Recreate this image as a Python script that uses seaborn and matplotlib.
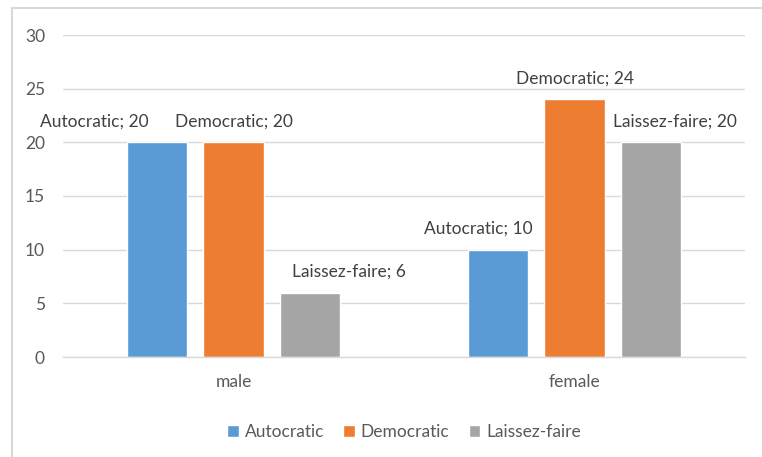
import matplotlib
matplotlib.use("Agg")
import matplotlib.pyplot as plt
import seaborn as sns
import pandas as pd
from matplotlib.patches import Rectangle

genders = ["male", "female"]
styles = ["Autocratic", "Democratic", "Laissez-faire"]
autocratic = [20, 10]
democratic = [20, 24]
laissez_faire = [6, 20]
y_ticks = [0, 5, 10, 15, 20, 25, 30]

colors = ["#5B9BD5", "#ED7D31", "#A5A5A5"]

rows = []
for style, vals in zip(styles, [autocratic, democratic, laissez_faire]):
    for g, v in zip(genders, vals):
        rows.append({"gender": g, "style": style, "count": v})
df = pd.DataFrame(rows)

sns.set_theme(style="white")
plt.rcParams["font.family"] = ["Lato", "DejaVu Sans"]

FS = 12.5

fig = plt.figure(figsize=(7.62, 4.57), dpi=100)
ax = fig.add_axes([63 / 762, 1 - 357 / 457, (745 - 63) / 762, (357 - 35) / 457])

sns.barplot(data=df, x="gender", y="count", hue="style", order=genders,
            hue_order=styles, palette=colors, width=0.669, gap=0.21,
            saturation=1, errorbar=None, ax=ax, legend=True)

ax.set_ylim(0, 30)
ax.set_xlim(-0.5, 1.5)
ax.set_yticks(y_ticks)
ax.set_yticklabels([str(t) for t in y_ticks], fontsize=FS, color="#595959")
ax.tick_params(axis="x", labelsize=FS, labelcolor="#595959", length=0, pad=12)
ax.tick_params(axis="y", length=0, pad=13)
ax.set_xlabel("")
ax.set_ylabel("")
ax.yaxis.grid(True, color="#D9D9D9", linewidth=1)
ax.set_axisbelow(True)
for s in ["top", "right", "left"]:
    ax.spines[s].set_visible(False)
ax.spines["bottom"].set_color("#D9D9D9")
ax.spines["bottom"].set_linewidth(1)

# Data labels: horizontal shifts (pixels) to keep neighbouring labels apart
label_shift = {
    ("Autocratic", "male"): -63, ("Democratic", "male"): 0, ("Laissez-faire", "male"): 39,
    ("Autocratic", "female"): -20, ("Democratic", "female"): 0, ("Laissez-faire", "female"): 24,
}
for container, style in zip(ax.containers, styles):
    for bar, g in zip(container, genders):
        h = bar.get_height()
        x = bar.get_x() + bar.get_width() / 2
        ax.annotate(f"{style}; {h:g}", xy=(x, h), xytext=(label_shift[(style, g)], 21),
                    textcoords="offset pixels", ha="center", va="center",
                    fontsize=FS, color="#404040")

leg = ax.legend(loc="upper center", bbox_to_anchor=(0.5, -0.16), ncol=3, frameon=False,
                fontsize=FS, handlelength=0.65, handleheight=0.65, columnspacing=1.1,
                handletextpad=0.35)
for t in leg.get_texts():
    t.set_color("#595959")

# Chart frame
fig.patches.append(Rectangle((12 / 762, -0.1), 1.2, 1 - 8 / 457 + 0.1, transform=fig.transFigure,
                             fill=False, edgecolor="#D9D9D9", linewidth=1.5))

fig.savefig("out.png", dpi=100)
